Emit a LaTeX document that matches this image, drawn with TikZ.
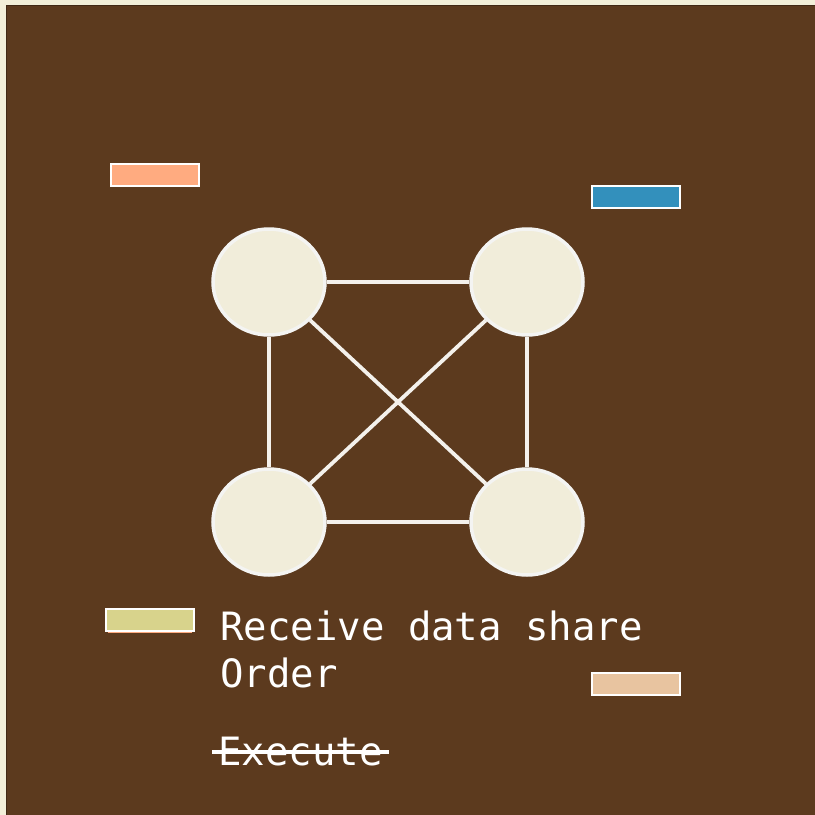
\documentclass[tikz,border=0pt]{standalone}
\usepackage{fontspec}
\setmonofont{DejaVu Sans Mono}
\usetikzlibrary{shapes.geometric}
\definecolor{bgcream}{HTML}{F3EFD9}
\definecolor{bgbrown}{HTML}{5C3A1E}
\definecolor{nodefill}{HTML}{F1EDDA}
\definecolor{ringcol}{HTML}{F4F4F2}
\definecolor{edgecol}{HTML}{F4F1EC}
\definecolor{keyorange}{HTML}{FFAB80}
\definecolor{keyblue}{HTML}{3390BC}
\definecolor{keyolive}{HTML}{D8D38C}
\definecolor{keytan}{HTML}{E8C4A0}
\tikzset{
    peer/.style={ellipse, draw=ringcol, line width=3.5pt, fill=nodefill,
            minimum width=112pt, minimum height=106pt, inner sep=0pt},
    link/.style={draw=edgecol, line width=3.8pt},
    keybox/.style={rectangle, draw=white, line width=2.5pt,
            minimum width=88pt, minimum height=22pt, inner sep=0pt},
    keytext/.style={text=white, font=\ttfamily\fontsize{39}{47}\selectfont,
            inner sep=0pt, align=left}
}
\begin{document}
\begin{tikzpicture}[x=1pt, y=-1pt]
        %background
        \useasboundingbox (0, 0) rectangle (815, 815);
        \fill[bgcream] (0, 0) rectangle (815, 815);
        \fill[bgbrown] (6, 5) rectangle (815, 815);
        \draw[bgbrown!70!black, line width=1pt] (6.5, 815) -- (6.5, 5.5) -- (815, 5.5);
        %legend keys
        \node[keybox, fill=keyorange] (korange) at (155, 175) {};
        \node[keybox, fill=keyblue] (kblue) at (636, 197) {};
        \node[keybox, fill=keyolive] (kolive) at (150, 620) {};
        \draw[keyorange, line width=0.8pt] (108, 632.5) -- (192, 632.5);
        \node[keybox, fill=keytan] (ktan) at (636, 684) {};
        %draw peers
        \node[peer] (p1) at (269, 282) {};
        \node[peer] (p2) at (527, 282) {};
        \node[peer] (p3) at (269, 522) {};
        \node[peer] (p4) at (527, 522) {};
        %draw links
        \draw[link] (p1) -- (p2);
        \draw[link] (p3) -- (p4);
        \draw[link] (p1) -- (p3);
        \draw[link] (p2) -- (p4);
        \draw[link] (p1) -- (p4);
        \draw[link] (p2) -- (p3);
        %draw labels
        \node[keytext, anchor=base west] (lreceive) at (220, 640) {Receive data share};
        \node[keytext, anchor=base west] (lorder) at (220, 687) {Order};
        \node[keytext, anchor=base west] (lexec) at (218, 765) {Execute};
        \draw[white, line width=4pt] ([xshift=-6pt, yshift=13pt]lexec.base west) -- ([xshift=6pt, yshift=13pt]lexec.base east);
    \end{tikzpicture}
\end{document}
